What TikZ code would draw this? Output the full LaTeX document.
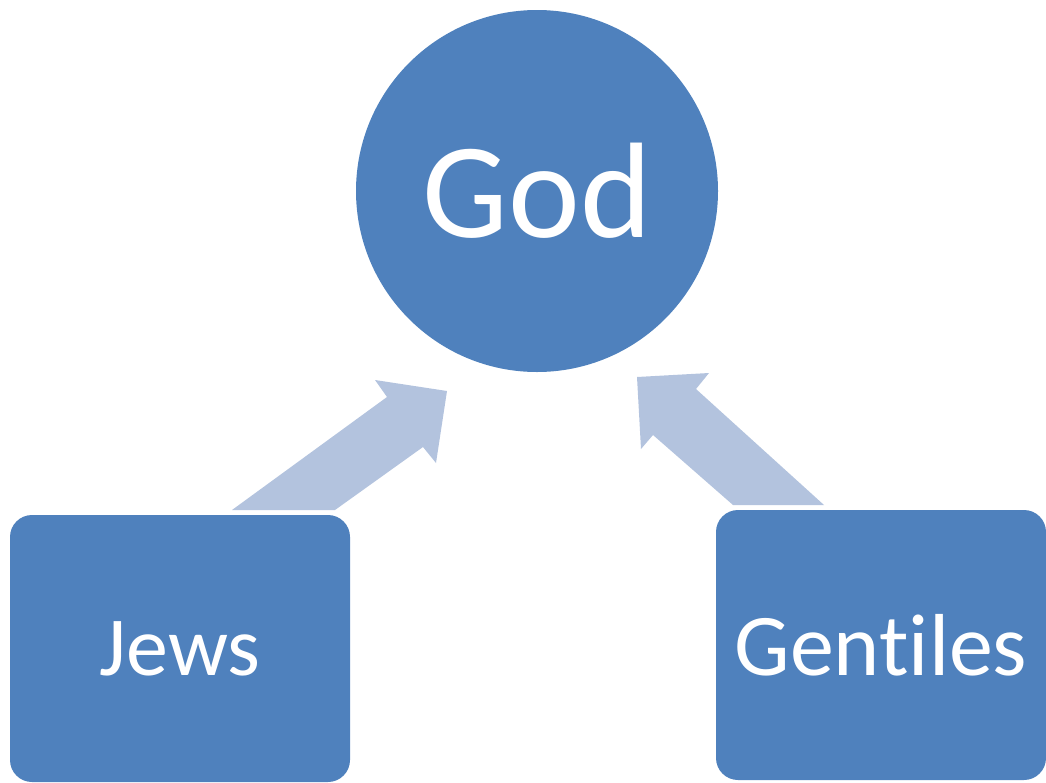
\documentclass[tikz,border=0pt]{standalone}
\usepackage{fontspec}
\setmainfont[Ligatures=NoCommon]{Carlito}
\usepackage{tikz}
\usetikzlibrary{calc}
\definecolor{accentblue}{HTML}{4F81BD}
\definecolor{paleblue}{HTML}{B3C3DE}

\begin{document}
\begin{tikzpicture}[
  x=1pt, y=-1pt,
  godnode/.style = {shape=circle, fill=accentblue, text=white, inner sep=0pt,
                    minimum size=362pt, font=\fontsize{136}{136}\selectfont},
  groupbox/.style = {shape=rectangle, rounded corners=22pt, fill=accentblue, text=white,
                     inner sep=0pt, font=\fontsize{84}{84}\selectfont},
  bigarrow/.style = {fill=paleblue}
]
  \useasboundingbox (0,0) rectangle (1046,782);
  \node[godnode] (god) at (537,191) {God};
  \node[groupbox, minimum width=340pt, minimum height=267pt] (jews) at (180,648.5) {Jews};
  \node[groupbox, minimum width=330pt, minimum height=270pt, font=\fontsize{88}{88}\selectfont]
    (gentiles) at (881,645) {Gent\kern0pt iles};
  % block arrows up to god
  \fill[bigarrow] (232,510) -- (387,397) -- (375,380) -- (447,391) -- (436,463)
                  -- (423,447) -- (335,510) -- cycle;
  \fill[bigarrow] (733,505) -- (653,435) -- (641,449) -- (637,377) -- (709,373)
                  -- (696,389) -- (824,505) -- cycle;
\end{tikzpicture}
\end{document}
